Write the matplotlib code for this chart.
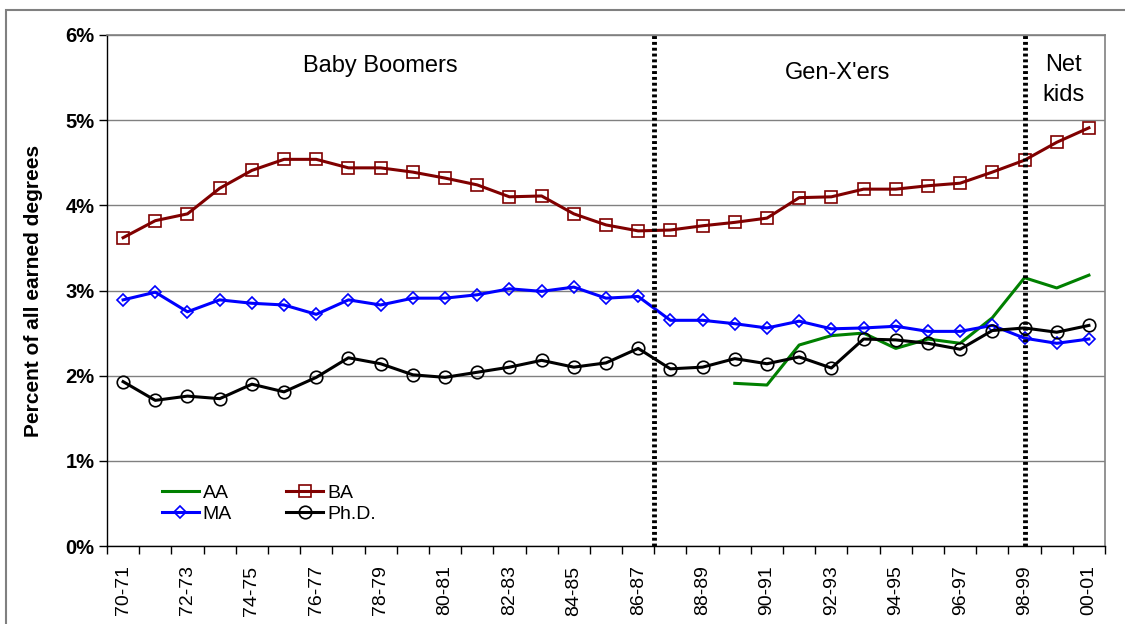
import matplotlib.pyplot as plt
from matplotlib.patches import Rectangle

plt.rcParams['font.family'] = ['Liberation Sans', 'DejaVu Sans']

# school years 1970-71 .. 2000-01
years = ['70-71', '71-72', '72-73', '73-74', '74-75', '75-76', '76-77', '77-78',
         '78-79', '79-80', '80-81', '81-82', '82-83', '83-84', '84-85', '85-86',
         '86-87', '87-88', '88-89', '89-90', '90-91', '91-92', '92-93', '93-94',
         '94-95', '95-96', '96-97', '97-98', '98-99', '99-00', '00-01']

# percent of all earned degrees
ba = [3.62, 3.82, 3.90, 4.20, 4.41, 4.54, 4.54, 4.44, 4.44, 4.39, 4.32, 4.24,
      4.10, 4.11, 3.90, 3.77, 3.70, 3.71, 3.76, 3.80, 3.85, 4.09, 4.10, 4.19,
      4.19, 4.23, 4.26, 4.39, 4.53, 4.74, 4.91]
ma = [2.89, 2.98, 2.75, 2.89, 2.85, 2.83, 2.72, 2.89, 2.83, 2.91, 2.91, 2.95,
      3.02, 2.99, 3.04, 2.91, 2.93, 2.65, 2.65, 2.61, 2.56, 2.64, 2.55, 2.56,
      2.58, 2.52, 2.52, 2.59, 2.44, 2.38, 2.43]
phd = [1.93, 1.71, 1.76, 1.73, 1.90, 1.81, 1.98, 2.21, 2.14, 2.01, 1.98, 2.04,
       2.10, 2.18, 2.10, 2.15, 2.32, 2.08, 2.10, 2.20, 2.14, 2.22, 2.09, 2.43,
       2.42, 2.38, 2.31, 2.53, 2.56, 2.51, 2.59]
# AA series starts in 89-90
aa_years = years[19:]
aa = [1.91, 1.89, 2.36, 2.47, 2.50, 2.32, 2.43, 2.38, 2.68, 3.15, 3.03, 3.18]

x = list(range(len(years)))
x_aa = [years.index(y) for y in aa_years]

fig = plt.figure(figsize=(11.25, 6.24), dpi=100)
ax = fig.add_axes([107 / 1125, 1 - 546 / 624, 998 / 1125, 511 / 624])

# outer frame
fig.patches.append(Rectangle((6 / 1125, -0.1), 1.2, 1 - 10 / 624 + 0.1,
                             transform=fig.transFigure, fill=False,
                             edgecolor='#808080', linewidth=1.5))

ax.set_ylim(0, 6)
ax.set_xlim(-0.5, len(years) - 0.5)
ax.set_yticks([0, 1, 2, 3, 4, 5, 6])
ax.set_yticklabels([f'{v}%' for v in range(7)], fontweight='bold', fontsize=14.5)
ax.grid(axis='y', color='#808080', linewidth=1)
ax.set_axisbelow(True)

ax.set_xticks(x[::2])
ax.set_xticklabels(years[::2], rotation=90, fontsize=14)
ax.set_xticks([i + 0.5 for i in range(-1, len(years))], minor=True)
ax.tick_params(axis='x', which='major', length=0, pad=14)
ax.tick_params(axis='x', which='minor', length=6, width=1, direction='out')
ax.tick_params(axis='y', length=6, width=1, direction='out', pad=3)

for s in ['top', 'right']:
    ax.spines[s].set_color('#808080')
    ax.spines[s].set_linewidth(1.2)
for s in ['left', 'bottom']:
    ax.spines[s].set_color('black')
    ax.spines[s].set_linewidth(1)

ax.set_ylabel('Percent of all earned degrees', fontweight='bold', fontsize=15,
              labelpad=16)

lw = 2.2
ax.plot(x_aa, aa, color='#008000', lw=lw, label='AA')
ax.plot(x, ma, color='#0000FF', lw=lw, marker='D', markersize=6,
        markerfacecolor='none', markeredgewidth=1.2, label='MA')
ax.plot(x, ba, color='#800000', lw=lw, marker='s', markersize=8,
        markerfacecolor='none', markeredgewidth=1.2, label='BA')
ax.plot(x, phd, color='black', lw=lw, marker='o', markersize=9,
        markerfacecolor='none', markeredgewidth=1.2, label='Ph.D.')

# generation boundaries
ax.axvline(16.5, color='black', lw=3.5, linestyle=(0, (0.6, 0.6)))
ax.axvline(28, color='black', lw=3.5, linestyle=(0, (0.6, 0.6)))

ax.text(8, 5.64, 'Baby Boomers', fontsize=17, ha='center', va='center')
ax.text(22.2, 5.55, "Gen-X'ers", fontsize=17, ha='center', va='center')
ax.text(29.2, 5.47, 'Net\nkids', fontsize=17, ha='center', va='center',
        linespacing=1.45)

ax.legend(ncol=2, frameon=False,
          loc='upper left', bbox_to_anchor=(0.045, 0.139), fontsize=14,
          handlelength=1.9, handletextpad=0.2, columnspacing=2.8,
          labelspacing=0.15, borderpad=0)

fig.savefig('out.png', dpi=100)
